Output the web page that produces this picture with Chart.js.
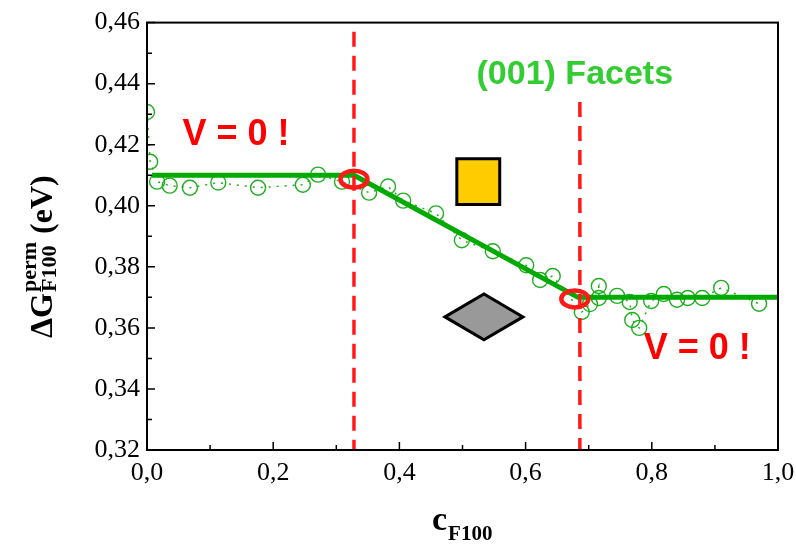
<!DOCTYPE html>
<html>
<head>
<meta charset="utf-8">
<script src="https://cdn.jsdelivr.net/npm/chart.js@4/dist/chart.umd.min.js"></script>
<style>
  html, body { margin: 0; padding: 0; background: #fff; }
  #chart { display: block; }
</style>
</head>
<body>
<canvas id="chart" width="796" height="545"></canvas>
<script>
// --- 1. DATA ---
const cValues = [0.000, 0.005, 0.016, 0.036, 0.068, 0.113, 0.176, 0.247, 0.271, 0.309,
                 0.352, 0.382, 0.406, 0.458, 0.499, 0.548, 0.601, 0.623, 0.643, 0.689,
                 0.702, 0.716, 0.716, 0.745, 0.765, 0.769, 0.780, 0.799, 0.819, 0.840,
                 0.857, 0.880, 0.910, 0.970];
const gValues = [0.4307, 0.4144, 0.4079, 0.4066, 0.4059, 0.4076, 0.4059, 0.4069, 0.4102, 0.4079,
                 0.4043, 0.4063, 0.4017, 0.3975, 0.3887, 0.3851, 0.3805, 0.3757, 0.3770, 0.3652,
                 0.3678, 0.3737, 0.3698, 0.3705, 0.3685, 0.3626, 0.3600, 0.3688, 0.3711, 0.3692,
                 0.3698, 0.3698, 0.3731, 0.3679];

// piecewise fit (plateau - ramp - plateau)
const fitC = [0.008, 0.328, 0.683, 1.0];
const fitG = [0.410, 0.410, 0.370, 0.370];

// the two V = 0 boundaries
const boundaryC = [0.328, 0.686];
const boundaryTop = [0.457, 0.434];

const xTickLabels = ['0,0', '0,2', '0,4', '0,6', '0,8', '1,0'];
const yTickLabels = ['0,32', '0,34', '0,36', '0,38', '0,40', '0,42', '0,44', '0,46'];

// --- 2. HELPERS ---
const toPoints = (xs, ys) => xs.map((x, i) => ({ x: x, y: ys[i] }));
const GREEN = '#1fae1f';
const FIT_GREEN = '#00aa00';
const RED = '#ff1a1a';
const SERIF = "'Liberation Serif', 'Times New Roman', serif";
const SANS = "'Liberation Sans', Arial, sans-serif";

// --- 3. DECORATION PLUGIN (frame, inward ticks, shapes, labels) ---
const decorations = {
    id: 'decorations',
    afterDatasetsDraw(chart) {
        const ctx = chart.ctx;
        const xs = chart.scales.x, ys = chart.scales.y;
        const px = v => xs.getPixelForValue(v);
        const py = v => ys.getPixelForValue(v);
        ctx.save();

        // yellow square
        ctx.fillStyle = '#ffcc00';
        ctx.strokeStyle = '#000';
        ctx.lineWidth = 3;
        ctx.beginPath();
        ctx.rect(px(0.491), py(0.4154), px(0.559) - px(0.491), py(0.4004) - py(0.4154));
        ctx.fill();
        ctx.stroke();

        // grey diamond
        const dc = 0.534, dg = 0.3636, dw = 0.0618, dh = 0.0075;
        ctx.fillStyle = '#999999';
        ctx.beginPath();
        ctx.moveTo(px(dc - dw), py(dg));
        ctx.lineTo(px(dc), py(dg + dh));
        ctx.lineTo(px(dc + dw), py(dg));
        ctx.lineTo(px(dc), py(dg - dh));
        ctx.closePath();
        ctx.fill();
        ctx.lineJoin = 'miter';
        ctx.stroke();

        // red rings on the fit corners
        ctx.strokeStyle = RED;
        ctx.lineWidth = 4.5;
        [[fitC[1], fitG[1] - 0.0013], [fitC[2] - 0.005, fitG[2] - 0.0005]].forEach(p => {
            ctx.beginPath();
            ctx.ellipse(px(p[0]), py(p[1]), 13.5, 8.5, 0, 0, Math.PI * 2);
            ctx.stroke();
        });

        // text labels
        ctx.textAlign = 'center';
        ctx.textBaseline = 'middle';
        ctx.fillStyle = '#ff0000';
        ctx.font = 'bold 36px ' + SANS;
        ctx.fillText('V = 0 !', px(0.141), py(0.4232));
        ctx.fillText('V = 0 !', px(0.872), py(0.3532));
        ctx.fillStyle = '#33cc33';
        ctx.font = 'bold 34px ' + SANS;
        ctx.fillText('(001) Facets', px(0.678), py(0.4431));

        ctx.restore();
    },
    afterDraw(chart) {
        const ctx = chart.ctx;
        const area = chart.chartArea;
        const xs = chart.scales.x, ys = chart.scales.y;
        ctx.save();

        // frame
        ctx.strokeStyle = '#000';
        ctx.lineWidth = 2;
        ctx.strokeRect(area.left, area.top, area.right - area.left, area.bottom - area.top);

        // inward ticks
        ctx.lineWidth = 1.5;
        ctx.beginPath();
        xs.ticks.forEach((t, i) => {
            const x = xs.getPixelForValue(t.value);
            const len = i % 2 === 0 ? 8 : 5;
            ctx.moveTo(x, area.bottom);
            ctx.lineTo(x, area.bottom - len);
        });
        ys.ticks.forEach((t, i) => {
            const y = ys.getPixelForValue(t.value);
            const len = i % 2 === 0 ? 8 : 5;
            ctx.moveTo(area.left, y);
            ctx.lineTo(area.left + len, y);
        });
        ctx.stroke();

        // y axis title: ΔG^perm_F100 (eV)
        ctx.fillStyle = '#000';
        ctx.textAlign = 'left';
        ctx.textBaseline = 'alphabetic';
        ctx.translate(52, 338);
        ctx.rotate(-Math.PI / 2);
        ctx.font = 'bold 32px ' + SERIF;
        ctx.fillText('ΔG', 0, 0);
        let w = ctx.measureText('ΔG').width + 1;
        ctx.font = 'bold 22px ' + SERIF;
        ctx.fillText('perm', w, -16);
        ctx.fillText('F100', w, 4);
        w += Math.max(ctx.measureText('perm').width, ctx.measureText('F100').width) + 8;
        ctx.font = 'bold 32px ' + SERIF;
        ctx.fillText('(eV)', w, 0);
        ctx.setTransform(1, 0, 0, 1, 0, 0);

        // x axis title: c_F100
        ctx.font = 'bold 34px ' + SERIF;
        ctx.fillText('c', 432, 530);
        const cw = ctx.measureText('c').width;
        ctx.font = 'bold 21px ' + SERIF;
        ctx.fillText('F100', 432 + cw + 1, 540);

        ctx.restore();
    }
};

// --- 4. CHART ---
new Chart(document.getElementById('chart'), {
    type: 'scatter',
    data: {
        datasets: [
            {
                label: 'boundary 1',
                data: [{ x: boundaryC[0], y: boundaryTop[0] }, { x: boundaryC[0], y: 0.32 }],
                showLine: true,
                borderColor: RED,
                borderWidth: 3.5,
                borderDash: [15, 9],
                pointRadius: 0,
                order: 0
            },
            {
                label: 'boundary 2',
                data: [{ x: boundaryC[1], y: boundaryTop[1] }, { x: boundaryC[1], y: 0.32 }],
                showLine: true,
                borderColor: RED,
                borderWidth: 3.5,
                borderDash: [15, 9],
                pointRadius: 0,
                order: 0
            },
            {
                label: 'fit',
                data: toPoints(fitC, fitG),
                showLine: true,
                borderColor: FIT_GREEN,
                borderWidth: 5,
                pointRadius: 0,
                order: 1
            },
            {
                label: 'dG perm',
                data: toPoints(cValues, gValues),
                showLine: true,
                borderColor: GREEN,
                borderWidth: 1.5,
                borderDash: [2, 6],
                pointRadius: 7.5,
                pointBorderWidth: 1.4,
                pointBorderColor: GREEN,
                pointBackgroundColor: 'rgba(0,0,0,0)',
                order: 2
            }
        ]
    },
    options: {
        responsive: false,
        animation: false,
        devicePixelRatio: 1,
        layout: { padding: { top: 20, right: 0, left: 0, bottom: 0 } },
        plugins: {
            legend: { display: false },
            tooltip: { enabled: false }
        },
        scales: {
            x: {
                type: 'linear',
                min: 0,
                max: 1,
                grid: { display: false, drawTicks: false },
                border: { display: false },
                afterFit: s => { s.height = 95; s.paddingRight = 18; },
                ticks: {
                    stepSize: 0.1,
                    padding: 8,
                    color: '#000',
                    maxRotation: 0,
                    autoSkip: false,
                    font: { family: SERIF, size: 26 },
                    callback: (v, i) => (i % 2 === 0 ? xTickLabels[i / 2] : '')
                }
            },
            y: {
                type: 'linear',
                min: 0.32,
                max: 0.46,
                grid: { display: false, drawTicks: false },
                border: { display: false },
                afterFit: s => { s.width = 147; },
                ticks: {
                    stepSize: 0.01,
                    padding: 7,
                    color: '#000',
                    autoSkip: false,
                    font: { family: SERIF, size: 26 },
                    callback: (v, i) => (i % 2 === 0 ? yTickLabels[i / 2] : '')
                }
            }
        }
    },
    plugins: [decorations]
});
</script>
</body>
</html>
